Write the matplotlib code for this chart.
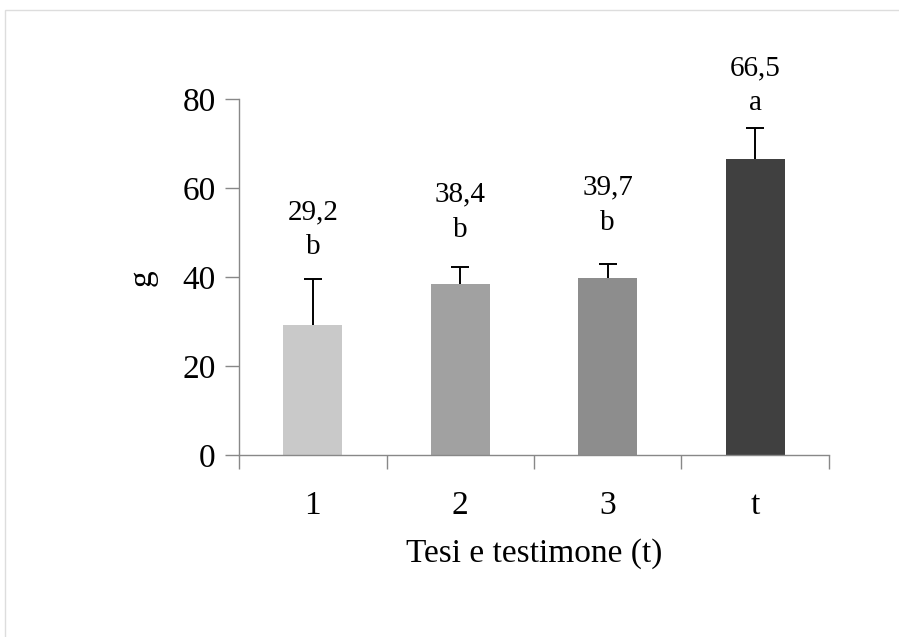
import matplotlib.pyplot as plt
from matplotlib.patches import Rectangle

plt.rcParams["font.family"] = ["Liberation Serif", "DejaVu Serif"]

# Peso medio (g) per tesi e testimone
categorie = ["1", "2", "3", "t"]
valori = [29.2, 38.4, 39.7, 66.5]
errori = [10.4, 3.8, 3.3, 7.1]
lettere = ["b", "b", "b", "a"]
etichette = ["29,2", "38,4", "39,7", "66,5"]
quota_etichette = [53.0, 57.0, 58.6, 85.4]
colori = ["#c9c9c9", "#a1a1a1", "#8d8d8d", "#404040"]

fig = plt.figure(figsize=(8.99, 6.37), dpi=100)
ax = fig.add_axes([0.266, 0.286, 0.656, 0.558])

x = range(len(categorie))
ax.bar(x, valori, width=0.4, color=colori, zorder=2)
_, caps, _ = ax.errorbar(x, valori, yerr=[[0] * len(errori), errori], fmt="none",
                         ecolor="black", elinewidth=1.4, capsize=6.5,
                         capthick=1.4, zorder=3)
caps[0].set_visible(False)  # solo la barra superiore

for i, (lab, let, q) in enumerate(zip(etichette, lettere, quota_etichette)):
    ax.text(i, q, lab, ha="center", va="baseline", fontsize=21, clip_on=False)
    ax.text(i, q - 7.9, let, ha="center", va="baseline", fontsize=21, clip_on=False)

ax.set_xlim(-0.5, 3.5)
ax.set_ylim(0, 80)
ax.set_yticks([0, 20, 40, 60, 80])
ax.set_xticks(list(x))
ax.set_xticklabels(categorie)
ax.set_xticks([-0.5, 0.5, 1.5, 2.5, 3.5], minor=True)
ax.tick_params(axis="x", which="major", length=0, pad=26, labelsize=24)
ax.tick_params(axis="x", which="minor", length=10, width=1, color="#888888")
ax.tick_params(axis="y", length=10, width=1, color="#888888", pad=7, labelsize=24)

for s in ["top", "right"]:
    ax.spines[s].set_visible(False)
for s in ["left", "bottom"]:
    ax.spines[s].set_color("#888888")
    ax.spines[s].set_linewidth(1)

fig.text(142 / 899, 1 - 278 / 637, "g", rotation=90, ha="center", va="center",
         fontsize=24)
ax.set_xlabel("Tesi e testimone (t)", fontsize=24, labelpad=12)

# cornice grigia chiara attorno al grafico
fig.patches.append(Rectangle((5 / 899, -0.1), 1.2, 1.1 - 9.5 / 637,
                             transform=fig.transFigure, fill=False,
                             edgecolor="#dddddd", linewidth=1))

fig.savefig("out.png", dpi=100)
